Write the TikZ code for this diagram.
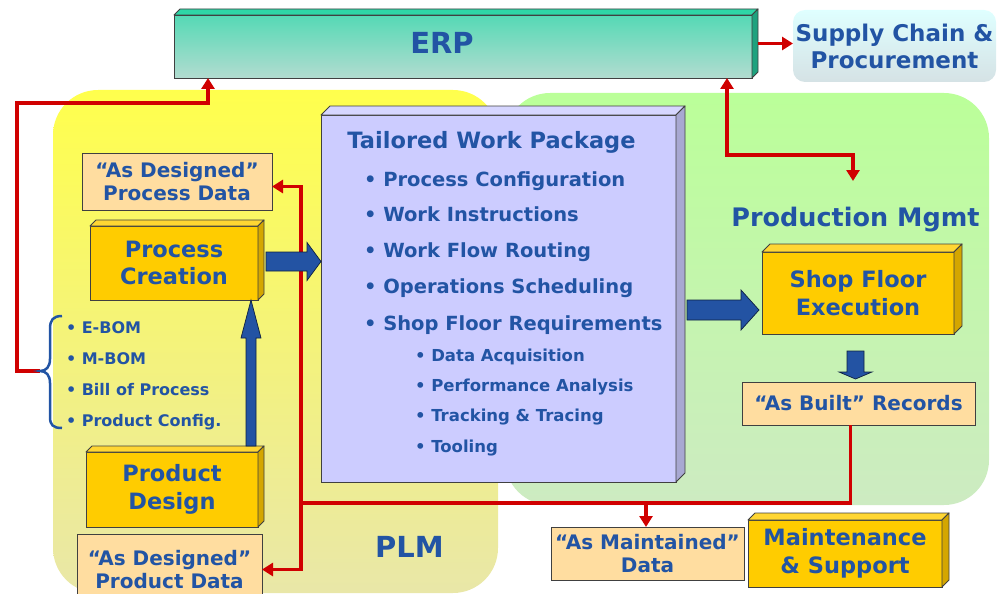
\documentclass[tikz,border=0pt]{standalone}
\usepackage{fontspec}
\setmainfont{DejaVu Sans}
\usetikzlibrary{arrows.meta,calc}

\definecolor{txtblue}{HTML}{2254A4}
\definecolor{arrblue}{HTML}{2353A3}
\definecolor{redl}{HTML}{D00000}
\definecolor{gold}{HTML}{FFCC00}
\definecolor{goldtop}{HTML}{FFD633}
\definecolor{goldside}{HTML}{D4A600}
\definecolor{peach}{HTML}{FFDDA0}
\definecolor{lav}{HTML}{CCCCFF}
\definecolor{lavtop}{HTML}{D6D6FF}
\definecolor{lavside}{HTML}{A8A8D2}
\definecolor{erptop}{HTML}{55D9B5}
\definecolor{erpbot}{HTML}{B2DCD0}
\definecolor{erpface}{HTML}{2ED6A6}
\definecolor{erpside}{HTML}{1EA27E}
\definecolor{plmtop}{HTML}{FFFF4D}
\definecolor{plmbot}{HTML}{E9E7A8}
\definecolor{pmtop}{HTML}{BBFF99}
\definecolor{pmbot}{HTML}{CDEBC2}
\definecolor{sctop}{HTML}{DFFFFF}
\definecolor{scbot}{HTML}{D5E2E5}

\newcommand\fsz[2]{\bfseries\fontsize{#1}{#2}\selectfont}

% top and right faces of an extruded box node
\newcommand\extrude[4]{%
  \filldraw[facedraw, fill=#3] (#1.north west) -- ++(#2,-#2)
    -- ($(#1.north east)+(#2,-#2)$) -- (#1.north east) -- cycle;
  \filldraw[facedraw, fill=#4] (#1.north east) -- ++(#2,-#2)
    -- ($(#1.south east)+(#2,-#2)$) -- (#1.south east) -- cycle;}

% block arrows: #1 start, #2 tip, #3 half body, #4 half head, #5 head length
\newcommand\blockright[5]{\path[barrow] let \p1=(#1), \p2=(#2) in
  (\x1,\y2+#3) -- (\x2-#5,\y2+#3) -- (\x2-#5,\y2+#4) -- (\x2,\y2)
  -- (\x2-#5,\y2-#4) -- (\x2-#5,\y2-#3) -- (\x1,\y2-#3) -- cycle;}
\newcommand\blockupward[5]{\path[barrow] let \p1=(#1), \p2=(#2) in
  (\x2-#3,\y1) -- (\x2-#3,\y2-#5) -- (\x2-#4,\y2-#5) -- (\x2,\y2)
  -- (\x2+#4,\y2-#5) -- (\x2+#3,\y2-#5) -- (\x2+#3,\y1) -- cycle;}
\newcommand\blockdownward[5]{\path[barrow] let \p1=(#1), \p2=(#2) in
  (\x2-#3,\y1) -- (\x2-#3,\y2+#5) -- (\x2-#4,\y2+#5) -- (\x2,\y2)
  -- (\x2+#4,\y2+#5) -- (\x2+#3,\y2+#5) -- (\x2+#3,\y1) -- cycle;}

\tikzset{
  facedraw/.style={draw=black!75, line width=0.9pt, line join=round},
  boxbase/.style={draw=black!75, line width=0.9pt, outer sep=0pt, inner sep=0pt,
    align=center, text=txtblue},
  goldbox/.style={boxbase, fill=gold, font=\fsz{22.5}{27.5}},
  databox/.style={boxbase, fill=peach, font=\fsz{20}{23}},
  lbl/.style={text=txtblue, inner sep=0pt, outer sep=0pt},
  item/.style={lbl, anchor=base west, font=\fsz{19.5}{22}},
  subitem/.style={lbl, anchor=base west, font=\fsz{16.5}{20}},
  bomitem/.style={lbl, anchor=base west, font=\fsz{16}{20}},
  rline/.style={draw=redl, line width=3.5pt},
  rarrow/.style={rline, -{Triangle[length=11pt,width=13pt]}},
  rboth/.style={rline, {Triangle[length=11pt,width=13pt]}-{Triangle[length=11pt,width=13pt]}},
  barrow/.style={fill=arrblue, draw=black!60!arrblue, line width=0.7pt},
}

\begin{document}
\begin{tikzpicture}[x=1pt, y=-1pt]
\useasboundingbox (0,0) rectangle (999,594);

% ---- background regions ----
\shade[top color=plmtop, bottom color=plmbot, rounded corners=45pt]
  (53,90) rectangle (498,593);
\shade[top color=pmtop, bottom color=pmbot, rounded corners=45pt]
  (505,93) rectangle (989,505);

% ---- ERP bar and supply chain ----
\node[boxbase, top color=erptop, bottom color=erpbot, minimum width=578,
  minimum height=63] (erp) at (463,46.5) {};
\extrude{erp}{6}{erpface}{erpside}
\node[lbl, anchor=base, font=\fsz{29}{32}] (erpt) at (442,54) {ERP};

\node[inner sep=0pt, outer sep=0pt, rounded corners=12pt, top color=sctop,
  bottom color=scbot, minimum width=203, minimum height=72, align=center,
  text=txtblue, font=\fsz{23}{27}] (scp) at (894.5,46) {Supply Chain \&\\Procurement};

% ---- region titles ----
\node[lbl, anchor=base, font=\fsz{25.5}{30}] (pmt) at (855.5,226) {Production Mgmt};
\node[lbl, anchor=base, font=\fsz{29}{32}] (plmt) at (409.5,557) {PLM};

% ---- data and work nodes ----
\node[boxbase, fill=lav, minimum width=355, minimum height=367] (twp) at (498.5,298.5) {};
\extrude{twp}{9}{lavtop}{lavside}

\node[databox, minimum width=190, minimum height=57] (dpd) at (177,181.5)
  {“As Designed”\\Process Data};
\node[databox, minimum width=185, minimum height=71] (dprod) at (169.5,569.5)
  {“As Designed”\\Product Data};
\node[databox, minimum width=233, minimum height=43] (abr) at (858.5,403.5)
  {“As Built” Records};
\node[databox, minimum width=193, minimum height=53] (amd) at (647.5,553.5)
  {“As Maintained”\\Data};

% ---- red data links ----
\coordinate (brtip) at (40,371);
\coordinate (jl) at (301,503);
\coordinate (jm) at (646,503);
\coordinate (pmin) at (853,181);
\coordinate (erpout) at ($(erp.east)+(6,-3)$);
\draw[rarrow] (brtip) -- (17,371) -- (17,103) -| ($(erp.south west)+(34,0)$);
\draw[rboth] ($(erp.south east)+(-25,0)$) |- (853,155) -- (pmin);
\draw[rarrow] (erpout) -- (erpout -| scp.west);
\draw[rline] ($(abr.south)+(-8,0)$) |- (jl);
\draw[rarrow] (jl) |- ($(dpd.east)+(0,5)$);
\draw[rarrow] (jl) |- (dprod.east);
\draw[rarrow] (jm) -- (jm |- amd.north);

% ---- process boxes ----
\node[goldbox, minimum width=168, minimum height=74] (pc) at (174,263) {Process\\Creation};
\extrude{pc}{6}{goldtop}{goldside}
\node[goldbox, minimum width=172, minimum height=75] (pd) at (172,489.5) {Product\\Design};
\extrude{pd}{6}{goldtop}{goldside}
\node[goldbox, minimum width=192, minimum height=82] (sfe) at (858,293) {Shop Floor\\Execution};
\extrude{sfe}{8}{goldtop}{goldside}
\node[goldbox, minimum width=194, minimum height=67] (ms) at (845,553.5) {Maintenance\\\& Support};
\extrude{ms}{7}{goldtop}{goldside}

% ---- block arrows ----
\coordinate (a1) at ($(pc.east)+(8,-1.5)$);
\blockright{a1}{a1 -| twp.west}{9.5pt}{19pt}{14pt}
\coordinate (a2) at ($(pd.north)+(79,-6)$);
\blockupward{a2}{a2 |- pc.south}{5pt}{10pt}{38pt}
\coordinate (a3) at ($(twp.east)+(11,11.5)$);
\blockright{a3}{$(a3 -| sfe.west)+(-3,0)$}{10pt}{20pt}{18pt}
\coordinate (a4) at ($(sfe.south)+(-2.5,17)$);
\blockdownward{a4}{$(a4 |- abr.north)+(0,-3)$}{8.5pt}{16.5pt}{7pt}

% ---- bill of materials list and brace ----
\draw[txtblue, line width=2.5pt]
  (62,316) .. controls (53,316) and (50,320) .. (50,329) -- (50,359)
  .. controls (50,367) and (46,371) .. (40,371)
  .. controls (46,371) and (50,375) .. (50,383) -- (50,417)
  .. controls (50,425) and (53,428) .. (62,428);
\node[bomitem] (b1) at (66,333) {• E-BOM};
\node[bomitem] (b2) at (66,364) {• M-BOM};
\node[bomitem] (b3) at (66,395) {• Bill of Process};
\node[bomitem] (b4) at (66,426) {• Product Config.};

% ---- work package contents ----
\node[lbl, anchor=base, font=\fsz{22.5}{26}] (twpt) at (491.5,148) {Tailored Work Package};
\node[item] (i1) at (364,186) {• Process Configuration};
\node[item] (i2) at (364,221) {• Work Instructions};
\node[item] (i3) at (364,257.5) {• Work Flow Routing};
\node[item] (i4) at (364,293) {• Operations Scheduling};
\node[item] (i5) at (364,330) {• Shop Floor Requirements};
\node[subitem] (s1) at (415,361) {• Data Acquisition};
\node[subitem] (s2) at (415,391) {• Performance Analysis};
\node[subitem] (s3) at (415,421) {• Tracking \& Tracing};
\node[subitem] (s4) at (415,452) {• Tooling};
\end{tikzpicture}
\end{document}
